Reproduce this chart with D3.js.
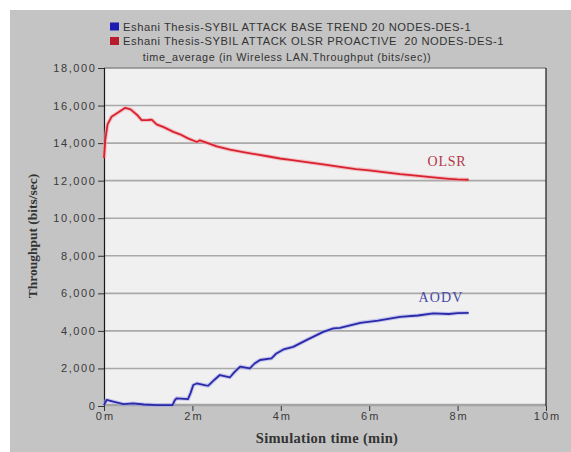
<!DOCTYPE html>
<html>
<head>
<meta charset="utf-8">
<script src="https://cdn.jsdelivr.net/npm/d3@7"></script>
<style>
  html, body { margin: 0; padding: 0; background: #ffffff; }
  svg { display: block; }
  text { white-space: pre; }
</style>
</head>
<body>
<svg id="chart" width="571" height="452"></svg>
<script>
// Series: simulation time (min) and average throughput (bits/sec)
const olsrTime = [0, 0.03, 0.08, 0.17, 0.3, 0.48, 0.6, 0.75, 0.85, 1.0, 1.08, 1.19, 1.35, 1.57, 1.72, 1.9, 2.1, 2.17, 2.35, 2.55, 2.85, 3.15, 3.45, 3.7, 3.98, 4.3, 4.58, 5.0, 5.34, 5.7, 6.0, 6.32, 6.7, 7.0, 7.45, 7.8, 8.0, 8.25];
const olsrThroughput = [13200, 14200, 15000, 15400, 15600, 15880, 15800, 15500, 15220, 15230, 15250, 15000, 14850, 14600, 14470, 14250, 14060, 14150, 14000, 13830, 13650, 13520, 13400, 13300, 13180, 13080, 12990, 12850, 12730, 12620, 12550, 12460, 12350, 12280, 12170, 12100, 12070, 12050];

const aodvTime = [0, 0.06, 0.21, 0.44, 0.66, 0.9, 1.19, 1.55, 1.6, 1.64, 1.9, 1.96, 2.02, 2.1, 2.3, 2.36, 2.5, 2.62, 2.85, 2.95, 3.08, 3.3, 3.4, 3.53, 3.79, 3.9, 4.06, 4.28, 4.58, 4.96, 5.19, 5.34, 5.8, 6.2, 6.7, 7.1, 7.45, 7.8, 8.0, 8.25];
const aodvThroughput = [50, 320, 230, 100, 140, 80, 50, 50, 300, 410, 370, 700, 1120, 1200, 1100, 1080, 1400, 1650, 1530, 1800, 2100, 2000, 2250, 2450, 2540, 2800, 3010, 3150, 3510, 3950, 4130, 4160, 4430, 4550, 4750, 4820, 4930, 4900, 4950, 4960];

const yTicks = [0, 2000, 4000, 6000, 8000, 10000, 12000, 14000, 16000, 18000];
const xTicks = [0, 2, 4, 6, 8, 10];

const legendLabels = [
  "Eshani Thesis-SYBIL ATTACK BASE TREND 20 NODES-DES-1",
  "Eshani Thesis-SYBIL ATTACK OLSR PROACTIVE  20 NODES-DES-1"
];
const legendColors = ["#1c1cb4", "#b81c2c"];

const svg = d3.select("#chart");
const sans = "Arial, 'Liberation Sans', sans-serif";
const serif = "'Times New Roman', 'Liberation Serif', serif";

// Outer gray panel
svg.append("rect").attr("x", 10).attr("y", 10).attr("width", 561).attr("height", 442).attr("fill", "#c4c4c4");

const x = d3.scaleLinear().domain([0, 10]).range([104, 546]);
const y = d3.scaleLinear().domain([0, 18000]).range([406, 68]);

// Plot area
svg.append("rect")
  .attr("x", x(0)).attr("y", y(18000))
  .attr("width", x(10) - x(0)).attr("height", y(0) - y(18000))
  .attr("fill", "#f0f0f0");

// Horizontal grid
svg.append("g").selectAll("line")
  .data(yTicks.filter(d => d > 0 && d < 18000))
  .join("line")
  .attr("x1", x(0)).attr("x2", x(10))
  .attr("y1", d => y(d)).attr("y2", d => y(d))
  .attr("stroke", "#a9a9a9").attr("stroke-width", 1.6);

// Frame: top and bottom in gray, sides dark
svg.append("line").attr("x1", x(0)).attr("x2", x(10)).attr("y1", y(18000)).attr("y2", y(18000))
  .attr("stroke", "#8a8a8a").attr("stroke-width", 1.5);
svg.append("line").attr("x1", x(0)).attr("x2", x(10)).attr("y1", y(0) - 1).attr("y2", y(0) - 1)
  .attr("stroke", "#a4a4a4").attr("stroke-width", 2.5);
svg.append("line").attr("x1", x(10)).attr("x2", x(10)).attr("y1", y(18000)).attr("y2", y(0))
  .attr("stroke", "#1a1a1a").attr("stroke-width", 1.2);

// Axes
const yAxis = d3.axisLeft(y).tickValues(yTicks).tickSize(6).tickPadding(1.5)
  .tickFormat(d3.format(","));
const gy = svg.append("g").attr("transform", `translate(${x(0)},0)`).call(yAxis);
gy.select(".domain").attr("stroke", "#1a1a1a").attr("stroke-width", 1.2);
gy.selectAll(".tick line").attr("stroke", "#333");
gy.selectAll(".tick text").attr("font-family", sans).attr("font-size", 11)
  .attr("letter-spacing", 1.6).attr("fill", "#3a3a3a");

const xAxis = d3.axisBottom(x).tickValues(xTicks).tickSize(5).tickPadding(1)
  .tickFormat(d => d + "m");
const gx = svg.append("g").attr("transform", `translate(0,${y(0)})`).call(xAxis);
gx.select(".domain").remove();
gx.selectAll(".tick line").attr("stroke", "#333");
gx.selectAll(".tick text").attr("font-family", sans).attr("font-size", 11)
  .attr("letter-spacing", 2).attr("dx", 1).attr("fill", "#3a3a3a");

// Lines with a soft halo
const line = d3.line().x(d => x(d[0])).y(d => y(d[1]));
const olsr = d3.zip(olsrTime, olsrThroughput);
const aodv = d3.zip(aodvTime, aodvThroughput);

function drawSeries(data, halo, core) {
  svg.append("path").datum(data).attr("d", line).attr("fill", "none")
    .attr("stroke", halo).attr("stroke-width", 4).attr("stroke-linejoin", "round").attr("opacity", 0.6);
  svg.append("path").datum(data).attr("d", line).attr("fill", "none")
    .attr("stroke", core).attr("stroke-width", 1.8).attr("stroke-linejoin", "round");
}
drawSeries(olsr, "#f4a0a8", "#d8232f");
drawSeries(aodv, "#a8a8ec", "#2a2aa8");

// Series labels
svg.append("text").attr("x", 447).attr("y", 166).attr("text-anchor", "middle")
  .attr("font-family", serif).attr("font-size", 14).attr("letter-spacing", 0.8)
  .attr("fill", "#b03848").text("OLSR");
svg.append("text").attr("x", 441).attr("y", 302).attr("text-anchor", "middle")
  .attr("font-family", serif).attr("font-size", 14).attr("letter-spacing", 1.2)
  .attr("fill", "#4848a8").text("AODV");

// Legend
const lg = svg.append("g");
legendLabels.forEach((t, i) => {
  const cy = 26.5 + i * 14.5;
  lg.append("rect").attr("x", 110).attr("y", cy - 4).attr("width", 9).attr("height", 8).attr("fill", legendColors[i]);
  lg.append("text").attr("x", 123).attr("y", cy + 4).attr("font-family", sans).attr("font-size", 11.2)
    .attr("letter-spacing", 0.55).attr("fill", "#333").text(t);
});

// Title
svg.append("text").attr("x", 287).attr("y", 61).attr("text-anchor", "middle")
  .attr("font-family", sans).attr("font-size", 10.8).attr("letter-spacing", 0.6).attr("fill", "#333")
  .text("time_average (in Wireless LAN.Throughput (bits/sec))");

// Axis titles
svg.append("text").attr("transform", "translate(37,236) rotate(-90)").attr("text-anchor", "middle")
  .attr("font-family", serif).attr("font-weight", "bold").attr("font-size", 13.5).attr("fill", "#333")
  .text("Throughput (bits/sec)");
svg.append("text").attr("x", 327).attr("y", 443).attr("text-anchor", "middle")
  .attr("font-family", serif).attr("font-weight", "bold").attr("font-size", 14.5)
  .attr("letter-spacing", 0.3).attr("fill", "#333")
  .text("Simulation time (min)");
</script>
</body>
</html>
